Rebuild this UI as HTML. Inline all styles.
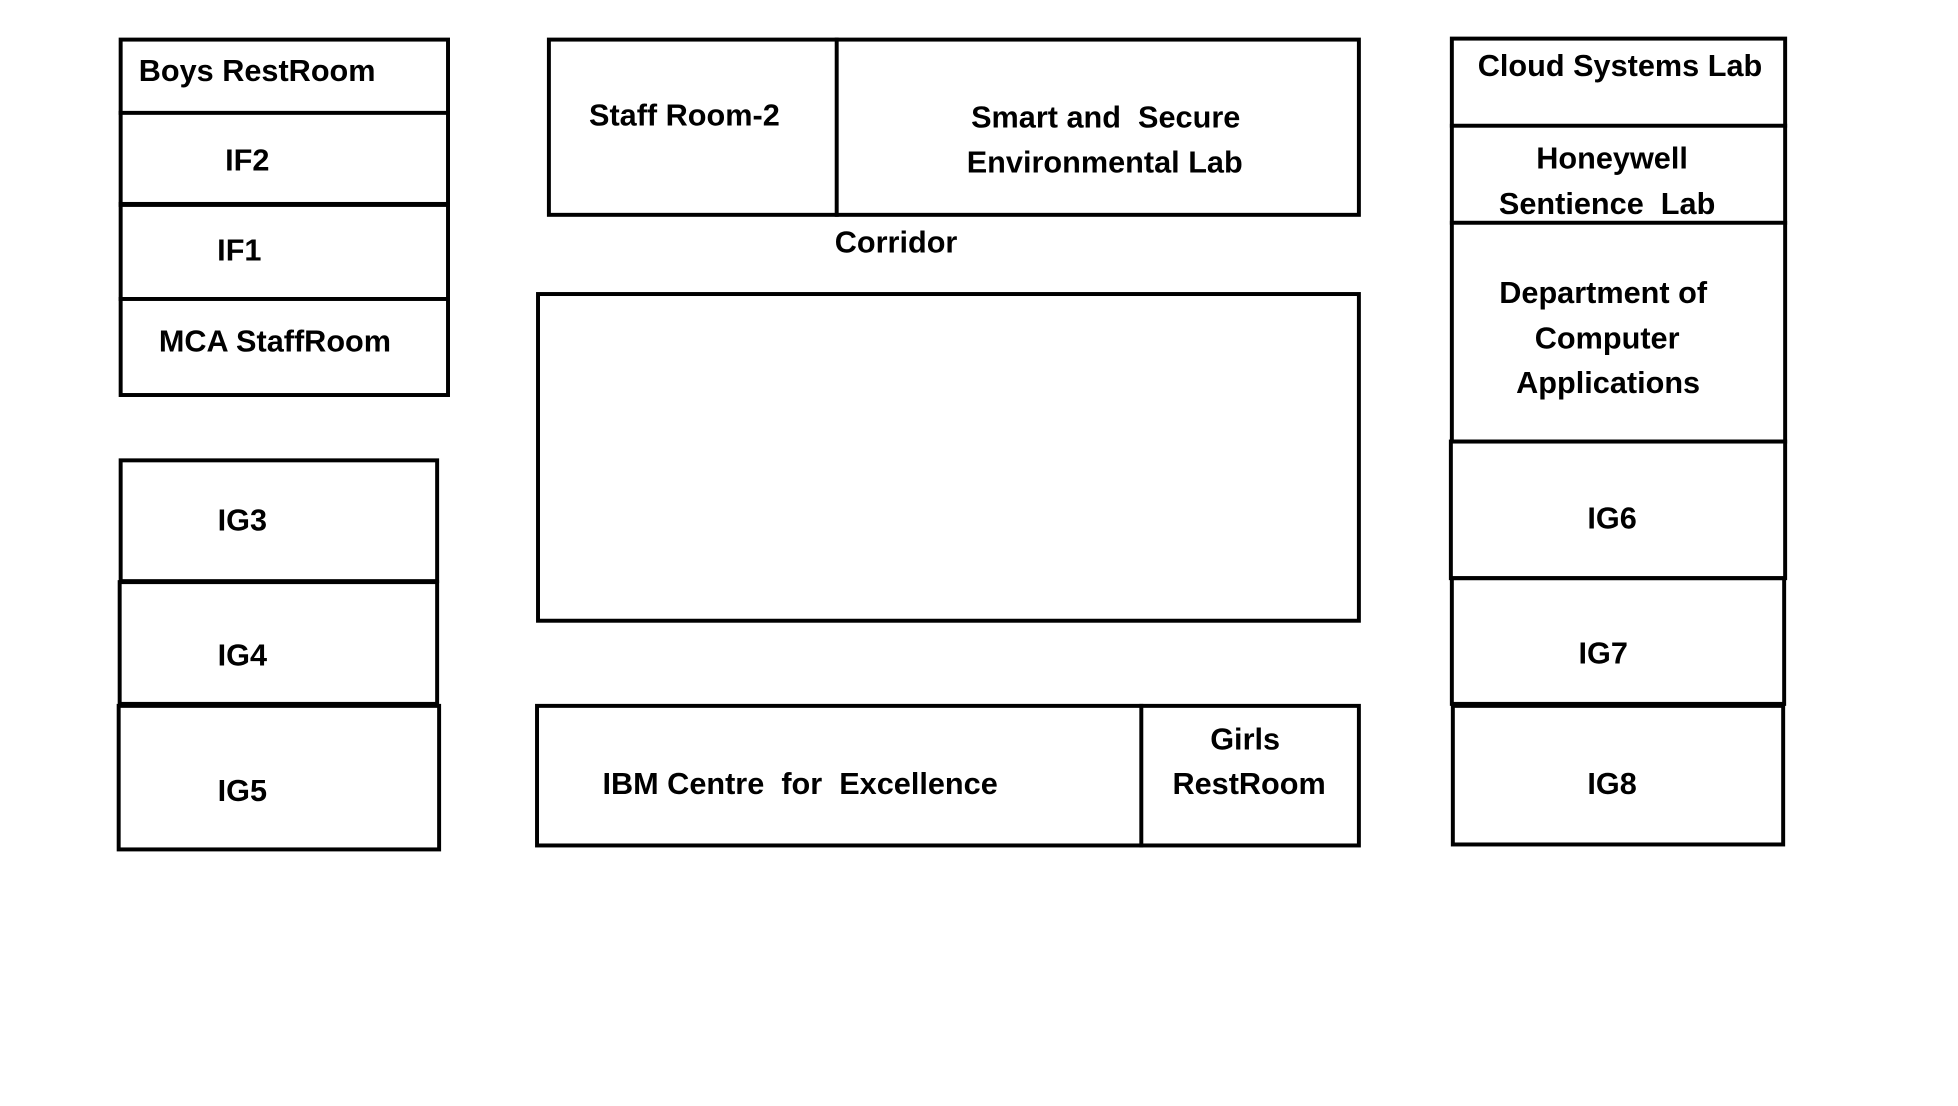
<!DOCTYPE html>
<html><head><meta charset="utf-8"><style>
body{margin:0;width:1958px;height:1106px;background:#fff;position:relative;overflow:hidden;font-family:"Liberation Sans",sans-serif;}
#w{position:absolute;left:0;top:0;width:1958px;height:1106px;transform:scale(0.989,0.99);transform-origin:0 0;}
.b{position:absolute;border:4px solid #000;box-sizing:border-box;}
.l{position:absolute;background:#000;}
.t{position:absolute;transform:translate(-50%,-50%);font-weight:bold;font-size:31px;white-space:nowrap;color:#000;}
</style></head><body><div id="w">
<div class="b" style="left:120px;top:38px;width:335px;height:363px"></div>
<div class="l" style="left:120px;top:112px;width:335px;height:4px"></div>
<div class="l" style="left:120px;top:204px;width:335px;height:5px"></div>
<div class="l" style="left:120px;top:300px;width:335px;height:4px"></div>
<div class="b" style="left:120px;top:463px;width:324px;height:126px"></div>
<div class="b" style="left:119px;top:586px;width:325px;height:127px"></div>
<div class="b" style="left:118px;top:711px;width:328px;height:149px"></div>
<div class="b" style="left:553px;top:38px;width:823px;height:181px"></div>
<div class="l" style="left:844px;top:38px;width:4px;height:181px"></div>
<div class="b" style="left:542px;top:295px;width:834px;height:334px"></div>
<div class="b" style="left:541px;top:711px;width:835px;height:145px"></div>
<div class="l" style="left:1152px;top:711px;width:4px;height:145px"></div>
<div class="b" style="left:1466px;top:37px;width:341px;height:411px"></div>
<div class="l" style="left:1466px;top:125px;width:341px;height:4px"></div>
<div class="l" style="left:1466px;top:223px;width:341px;height:4px"></div>
<div class="b" style="left:1465px;top:444px;width:342px;height:142px"></div>
<div class="b" style="left:1466px;top:582px;width:340px;height:131px"></div>
<div class="b" style="left:1467px;top:711px;width:338px;height:144px"></div>

<div class="t" style="left:260px;top:72px">Boys RestRoom</div>
<div class="t" style="left:250px;top:162px">IF2</div>
<div class="t" style="left:242px;top:253px">IF1</div>
<div class="t" style="left:278px;top:345px">MCA StaffRoom</div>
<div class="t" style="left:245px;top:526px">IG3</div>
<div class="t" style="left:245px;top:662px">IG4</div>
<div class="t" style="left:245px;top:799px">IG5</div>
<div class="t" style="left:692px;top:117px">Staff Room-2</div>
<div class="t" style="left:1118px;top:119px">Smart and&nbsp; Secure</div>
<div class="t" style="left:1117px;top:164px">Environmental Lab</div>
<div class="t" style="left:906px;top:245px">Corridor</div>
<div class="t" style="left:809px;top:792px">IBM Centre&nbsp; for&nbsp; Excellence</div>
<div class="t" style="left:1259px;top:747px">Girls</div>
<div class="t" style="left:1263px;top:792px">RestRoom</div>
<div class="t" style="left:1638px;top:67px">Cloud Systems Lab</div>
<div class="t" style="left:1630px;top:160px">Honeywell</div>
<div class="t" style="left:1625px;top:206px">Sentience&nbsp; Lab</div>
<div class="t" style="left:1621px;top:296px">Department of</div>
<div class="t" style="left:1625px;top:342px">Computer</div>
<div class="t" style="left:1626px;top:387px">Applications</div>
<div class="t" style="left:1630px;top:524px">IG6</div>
<div class="t" style="left:1621px;top:660px">IG7</div>
<div class="t" style="left:1630px;top:792px">IG8</div>
</div></body></html>
